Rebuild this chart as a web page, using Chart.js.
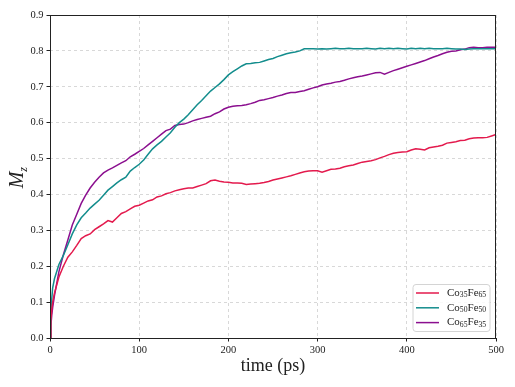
<!DOCTYPE html>
<html>
<head>
<meta charset="utf-8">
<script src="https://cdn.jsdelivr.net/npm/chart.js@4.4.0/dist/chart.umd.min.js"></script>
<style>
  html, body { margin: 0; padding: 0; background: #fff; }
</style>
</head>
<body>
<canvas id="chart" width="515" height="387"></canvas>
<script>
// time in ps
const times = [0, 1, 2, 3, 5,
  10, 15, 20, 25, 30, 35, 40, 45, 50, 55, 60, 65, 70, 75, 80, 85, 90, 95, 100,
  105, 110, 115, 120, 125, 130, 135, 140, 145, 150, 155, 160, 165, 170, 175, 180, 185, 190, 195, 200,
  205, 210, 215, 220, 225, 230, 235, 240, 245, 250, 255, 260, 265, 270, 275, 280, 285, 290, 295, 300,
  305, 310, 315, 320, 325, 330, 335, 340, 345, 350, 355, 360, 365, 370, 375, 380, 385, 390, 395, 400,
  405, 410, 415, 420, 425, 430, 435, 440, 445, 450, 455, 460, 465, 470, 475, 480, 485, 490, 495, 500];

const co35fe65 = [0, 0.05, 0.08, 0.10, 0.125,
  0.17, 0.20, 0.225, 0.24, 0.258, 0.277, 0.285, 0.29, 0.302, 0.31, 0.318, 0.327, 0.323, 0.335, 0.347, 0.352, 0.36, 0.367, 0.37,
  0.376, 0.382, 0.385, 0.393, 0.396, 0.402, 0.405, 0.41, 0.413, 0.416, 0.418, 0.418, 0.422, 0.426, 0.43, 0.438, 0.44, 0.437, 0.435, 0.434,
  0.432, 0.432, 0.431, 0.428, 0.429, 0.43, 0.431, 0.433, 0.436, 0.44, 0.443, 0.446, 0.449, 0.452, 0.456, 0.46, 0.463, 0.465, 0.466, 0.466,
  0.462, 0.466, 0.47, 0.471, 0.473, 0.477, 0.48, 0.482, 0.486, 0.49, 0.492, 0.494, 0.497, 0.502, 0.506, 0.511, 0.515, 0.517, 0.518, 0.519,
  0.524, 0.527, 0.526, 0.524, 0.53, 0.532, 0.534, 0.537, 0.543, 0.545, 0.547, 0.55, 0.551, 0.555, 0.557, 0.558, 0.558, 0.559, 0.563, 0.567];

const co50fe50 = [0, 0.07, 0.11, 0.14, 0.165,
  0.205, 0.23, 0.26, 0.29, 0.315, 0.335, 0.348, 0.362, 0.373, 0.384, 0.398, 0.412, 0.422, 0.432, 0.441, 0.448, 0.465, 0.475, 0.484,
  0.496, 0.512, 0.527, 0.538, 0.548, 0.56, 0.572, 0.587, 0.60, 0.61, 0.622, 0.636, 0.65, 0.662, 0.675, 0.688, 0.698, 0.708, 0.72, 0.733,
  0.742, 0.75, 0.758, 0.764, 0.765, 0.767, 0.768, 0.772, 0.776, 0.779, 0.784, 0.788, 0.792, 0.795, 0.797, 0.80, 0.806, 0.806, 0.806, 0.805,
  0.806, 0.805, 0.806, 0.807, 0.806, 0.806, 0.807, 0.806, 0.806, 0.806, 0.807, 0.806, 0.805, 0.807, 0.806, 0.807, 0.806, 0.807, 0.806, 0.805,
  0.807, 0.806, 0.807, 0.806, 0.807, 0.806, 0.806, 0.806, 0.807, 0.806, 0.805, 0.805, 0.804, 0.805, 0.806, 0.806, 0.806, 0.806, 0.806, 0.806];

const co65fe35 = [0, 0.035, 0.065, 0.085, 0.118,
  0.185, 0.232, 0.273, 0.315, 0.345, 0.375, 0.398, 0.418, 0.434, 0.448, 0.46, 0.468, 0.474, 0.481, 0.488, 0.494, 0.505, 0.512, 0.52,
  0.528, 0.538, 0.548, 0.558, 0.568, 0.578, 0.582, 0.592, 0.595, 0.596, 0.60, 0.605, 0.609, 0.612, 0.615, 0.618, 0.625, 0.63, 0.638, 0.643,
  0.646, 0.647, 0.648, 0.65, 0.653, 0.657, 0.662, 0.664, 0.667, 0.67, 0.674, 0.677, 0.681, 0.684, 0.684, 0.687, 0.689, 0.693, 0.697, 0.70,
  0.705, 0.708, 0.71, 0.713, 0.715, 0.718, 0.722, 0.725, 0.728, 0.73, 0.733, 0.736, 0.739, 0.74, 0.735, 0.74, 0.745, 0.749, 0.753, 0.757,
  0.761, 0.765, 0.769, 0.773, 0.778, 0.783, 0.787, 0.792, 0.796, 0.799, 0.80, 0.803, 0.805, 0.809, 0.81, 0.809, 0.809, 0.81, 0.81, 0.81];

const seriesNames = ['Co35Fe65', 'Co50Fe50', 'Co65Fe35'];
const seriesColors = ['#e31a4d', '#138d8d', '#8b0f8f'];
const seriesValues = [co35fe65, co50fe50, co65fe35];

const FONT = "'Liberation Serif', 'DejaVu Serif', serif";

const datasets = seriesValues.map((vals, i) => ({
  label: seriesNames[i],
  data: vals.map((v, k) => ({ x: times[k], y: v })),
  borderColor: seriesColors[i],
  borderWidth: 1.5,
  pointRadius: 0,
  tension: 0,
  fill: false
}));

// draws "Co35Fe65" with the digits as subscripts
function drawChem(ctx, text, x, y, size) {
  const parts = text.match(/[A-Za-z]+|\d+/g);
  let cx = x;
  parts.forEach(p => {
    const isSub = /\d/.test(p);
    ctx.font = (isSub ? size * 0.7 : size) + 'px ' + FONT;
    ctx.fillText(p, cx, isSub ? y + size * 0.22 : y);
    cx += ctx.measureText(p).width;
  });
}

const decorations = {
  id: 'decorations',
  afterDatasetsDraw(chart) {
    const { ctx, chartArea: a } = chart;
    ctx.save();
    // spines
    ctx.strokeStyle = '#222';
    ctx.lineWidth = 1;
    ctx.strokeRect(a.left + 0.5, a.top + 0.5, a.right - a.left - 1, a.bottom - a.top);

    // legend box
    const bx = 413, by = 284.5, bw = 77, bh = 47;
    ctx.beginPath();
    ctx.roundRect(bx, by, bw, bh, 3);
    ctx.fillStyle = 'rgba(255,255,255,0.85)';
    ctx.fill();
    ctx.strokeStyle = '#d4d4d4';
    ctx.lineWidth = 1;
    ctx.stroke();
    ctx.textBaseline = 'middle';
    ctx.textAlign = 'left';
    seriesNames.forEach((name, i) => {
      const ly = by + 8.5 + i * 14.8;
      ctx.strokeStyle = seriesColors[i];
      ctx.lineWidth = 1.5;
      ctx.beginPath();
      ctx.moveTo(416, ly);
      ctx.lineTo(439, ly);
      ctx.stroke();
      ctx.fillStyle = '#222';
      drawChem(ctx, name, 447, ly, 11);
    });

    // axis titles
    ctx.fillStyle = '#222';
    ctx.textAlign = 'center';
    ctx.textBaseline = 'middle';
    ctx.font = '18px ' + FONT;
    ctx.fillText('time (ps)', (a.left + a.right) / 2, 366);

    ctx.translate(18, (a.top + a.bottom) / 2);
    ctx.rotate(-Math.PI / 2);
    ctx.textAlign = 'left';
    ctx.font = 'italic 20px ' + FONT;
    const mw = ctx.measureText('M').width;
    ctx.fillText('M', -(mw + 7) / 2, 0);
    ctx.font = 'italic 12px ' + FONT;
    ctx.fillText('z', -(mw + 7) / 2 + mw, 6);
    ctx.restore();
  }
};

new Chart(document.getElementById('chart').getContext('2d'), {
  type: 'line',
  data: { datasets },
  options: {
    responsive: false,
    animation: false,
    devicePixelRatio: 1,
    layout: { padding: { left: 0, top: 15, right: 19, bottom: 0 } },
    plugins: { legend: { display: false }, tooltip: { enabled: false } },
    scales: {
      x: {
        type: 'linear',
        min: 0,
        max: 500,
        ticks: { stepSize: 100, color: '#222', font: { family: FONT, size: 10.5 }, padding: 2, maxRotation: 0 },
        grid: { color: '#cfcfcf', lineWidth: 0.8, tickColor: '#222', tickLength: 3.5, tickWidth: 1, tickBorderDash: [] },
        border: { display: false, dash: [3, 3] },
        afterFit(scale) { scale.height = 49; }
      },
      y: {
        min: 0,
        max: 0.9,
        ticks: { stepSize: 0.1, color: '#222', font: { family: FONT, size: 10.5 }, padding: 3,
                 callback: v => v.toFixed(1) },
        grid: { color: '#cfcfcf', lineWidth: 0.8, tickColor: '#222', tickLength: 3.5, tickWidth: 1, tickBorderDash: [] },
        border: { display: false, dash: [3, 3] },
        afterFit(scale) { scale.width = 50; }
      }
    }
  },
  plugins: [decorations]
});
</script>
</body>
</html>
